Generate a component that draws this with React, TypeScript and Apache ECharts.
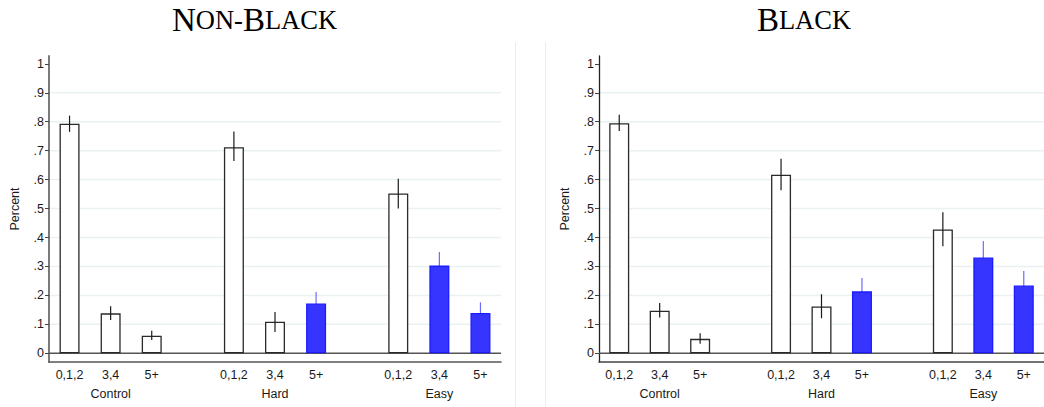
import React, { useEffect, useRef } from "react";
import * as echarts from "echarts";

// ---- data ----
const tickLabels = ["0,1,2", "3,4", "5+", "", "0,1,2", "3,4", "5+", "", "0,1,2", "3,4", "5+"];
const groupLabels = ["", "Control", "", "", "", "Hard", "", "", "", "Easy", ""];
const barSlots = [0, 1, 2, 4, 5, 6, 8, 9, 10];
const highlighted = [false, false, false, false, false, true, false, true, true];

const yTicks = [0, 0.1, 0.2, 0.3, 0.4, 0.5, 0.6, 0.7, 0.8, 0.9, 1];
const yTickLabels = ["0", ".1", ".2", ".3", ".4", ".5", ".6", ".7", ".8", ".9", "1"];
const gridValues = [0.1, 0.2, 0.3, 0.4, 0.5, 0.6, 0.7, 0.8, 0.9];

const nonBlackMean = [0.793, 0.138, 0.061, 0.712, 0.109, 0.172, 0.552, 0.303, 0.139];
const nonBlackLo = [0.765, 0.115, 0.046, 0.664, 0.074, 0.132, 0.5, 0.256, 0.102];
const nonBlackHi = [0.821, 0.163, 0.078, 0.766, 0.143, 0.212, 0.603, 0.35, 0.176];

const blackMean = [0.795, 0.147, 0.05, 0.617, 0.162, 0.214, 0.428, 0.331, 0.234];
const blackLo = [0.768, 0.124, 0.033, 0.563, 0.121, 0.168, 0.37, 0.274, 0.184];
const blackHi = [0.824, 0.174, 0.069, 0.672, 0.204, 0.26, 0.487, 0.388, 0.284];

const BLUE = "#3535ff";
const BLUE_EDGE = "#1c1cff";
const SANS = "Liberation Sans, Arial, sans-serif";

function hline(color: string, width: number) {
  return (params: any, api: any) => {
    const cs = params.coordSys;
    const y = api.coord([0, api.value(1)])[1];
    return {
      type: "line",
      shape: { x1: cs.x, y1: y, x2: cs.x + cs.width, y2: y },
      style: { stroke: color, lineWidth: width },
    };
  };
}

function errRender(color: string) {
  return (params: any, api: any) => {
    const p1 = api.coord([api.value(0), api.value(1)]);
    const p2 = api.coord([api.value(0), api.value(2)]);
    return {
      type: "line",
      shape: { x1: p1[0], y1: p1[1], x2: p2[0], y2: p2[1] },
      style: { stroke: color, lineWidth: 1.2 },
    };
  };
}

function panelSeries(g: number, mean: number[], lo: number[], hi: number[]) {
  const xi = g * 2;
  const barData: any[] = tickLabels.map(() => "-");
  barSlots.forEach((s, k) => {
    barData[s] = {
      value: mean[k],
      itemStyle: highlighted[k]
        ? { color: BLUE, borderColor: BLUE_EDGE, borderWidth: 1.3 }
        : { color: "#ffffff", borderColor: "#2a2a2a", borderWidth: 1.3 },
    };
  });
  const errBlue = barSlots
    .map((s, k) => [s, lo[k], hi[k]])
    .filter((_, k) => highlighted[k]);
  const errWhite = barSlots
    .map((s, k) => [s, lo[k], hi[k]])
    .filter((_, k) => !highlighted[k]);
  return [
    {
      type: "custom",
      xAxisIndex: xi,
      yAxisIndex: g,
      z: 0,
      silent: true,
      renderItem: hline("#e9f1f2", 1.5),
      data: gridValues.map((v) => [0, v]),
    },
    {
      type: "custom",
      xAxisIndex: xi,
      yAxisIndex: g,
      z: 1,
      silent: true,
      renderItem: hline("#555555", 1.6),
      data: [[0, 0]],
    },
    {
      type: "custom",
      xAxisIndex: xi,
      yAxisIndex: g,
      z: 1,
      silent: true,
      renderItem: errRender("#6b6bff"),
      data: errBlue,
    },
    {
      type: "bar",
      xAxisIndex: xi,
      yAxisIndex: g,
      z: 2,
      barWidth: 20,
      data: barData,
    },
    {
      type: "custom",
      xAxisIndex: xi,
      yAxisIndex: g,
      z: 3,
      silent: true,
      renderItem: errRender("#1a1a1a"),
      data: errWhite,
    },
  ];
}

function xAxes(g: number, axisColor: string) {
  const cats = tickLabels.map((_, i) => String(i));
  return [
    {
      type: "category",
      gridIndex: g,
      position: "bottom",
      data: cats,
      axisLine: { onZero: false, lineStyle: { color: axisColor, width: 1.6 } },
      axisTick: {
        alignWithLabel: true,
        interval: (i: number) => tickLabels[i] !== "",
        length: 4,
        lineStyle: { color: "#333", width: 1 },
      },
      axisLabel: {
        interval: 0,
        formatter: (_v: string, i: number) => tickLabels[i],
        fontSize: 12.5,
        color: "#1a1a1a",
        margin: 6,
        fontFamily: SANS,
      },
      splitLine: { show: false },
    },
    {
      type: "category",
      gridIndex: g,
      position: "bottom",
      offset: 19,
      data: cats,
      axisLine: { show: false },
      axisTick: { show: false },
      axisLabel: {
        interval: 0,
        formatter: (_v: string, i: number) => groupLabels[i],
        fontSize: 12.5,
        color: "#1a1a1a",
        margin: 6,
        fontFamily: SANS,
      },
      splitLine: { show: false },
    },
  ];
}

function yAxis(g: number, axisColor: string, axisWidth: number) {
  return {
    type: "value",
    gridIndex: g,
    min: -0.03,
    max: 1.027,
    name: "Percent",
    nameLocation: "middle",
    nameGap: 28,
    nameTextStyle: { fontSize: 12.5, color: "#1a1a1a", fontFamily: SANS },
    axisLine: { show: true, lineStyle: { color: axisColor, width: axisWidth } },
    axisTick: { show: true, customValues: yTicks, length: 4, lineStyle: { color: "#444" } },
    axisLabel: {
      customValues: yTicks,
      formatter: (v: number) => yTickLabels[yTicks.findIndex((t) => Math.abs(t - v) < 1e-6)] ?? "",
      fontSize: 12.5,
      color: "#1a1a1a",
      margin: 5,
      fontFamily: SANS,
    },
    splitLine: { show: false },
  };
}

const titleRich = {
  b: { fontFamily: "Liberation Serif, serif", fontSize: 33, color: "#111" },
  s: { fontFamily: "Liberation Serif, serif", fontSize: 26.5, color: "#111" },
};

export default function App() {
  const ref = useRef<HTMLDivElement>(null);
  useEffect(() => {
    if (!ref.current) return;
    const chart = echarts.init(ref.current, undefined, { renderer: "svg" });
    chart.setOption({
      animation: false,
      backgroundColor: "#ffffff",
      grid: [
        { left: 49, top: 56, width: 452, height: 306 },
        { left: 599, top: 56, width: 452, height: 306 },
      ],
      xAxis: [...xAxes(0, "#555"), ...xAxes(1, "#444")],
      yAxis: [yAxis(0, "#7a7a7a", 2), yAxis(1, "#222", 1.3)],
      series: [
        ...panelSeries(0, nonBlackMean, nonBlackLo, nonBlackHi),
        ...panelSeries(1, blackMean, blackLo, blackHi),
      ],
      graphic: [
        {
          type: "line",
          shape: { x1: 515.5, y1: 42, x2: 515.5, y2: 407 },
          style: { stroke: "#ececec", lineWidth: 1 },
          silent: true,
        },
        {
          type: "line",
          shape: { x1: 545.5, y1: 42, x2: 545.5, y2: 407 },
          style: { stroke: "#ececec", lineWidth: 1 },
          silent: true,
        },
        {
          type: "text",
          x: 254.5,
          y: 20,
          style: {
            text: "{b|N}{s|ON-}{b|B}{s|LACK}",
            align: "center",
            verticalAlign: "middle",
            rich: titleRich,
          },
          silent: true,
        },
        {
          type: "text",
          x: 804,
          y: 20,
          style: {
            text: "{b|B}{s|LACK}",
            align: "center",
            verticalAlign: "middle",
            rich: titleRich,
          },
          silent: true,
        },
      ],
    });
    return () => chart.dispose();
  }, []);
  return (
    <div
      ref={ref}
      style={{ position: "absolute", left: 0, top: 0, width: 1044, height: 407 }}
    />
  );
}
